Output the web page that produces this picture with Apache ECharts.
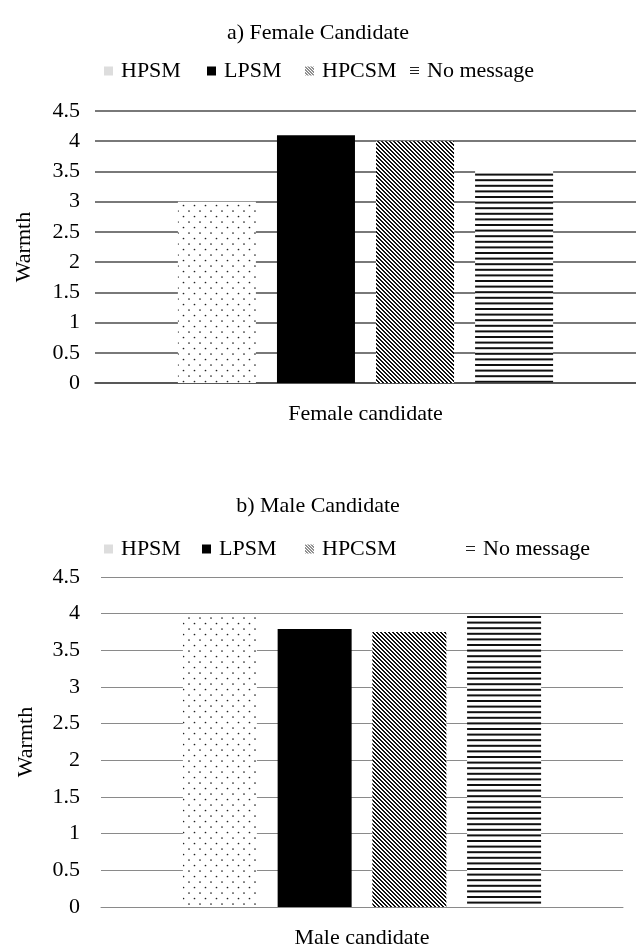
<!DOCTYPE html>
<html>
<head>
<meta charset="utf-8">
<script src="https://cdn.jsdelivr.net/npm/echarts@6/dist/echarts.min.js"></script>
<style>
  html, body { margin: 0; padding: 0; background: #fff; }
  #chart { width: 636px; height: 952px; }
</style>
</head>
<body>
<div id="chart"></div>
<script>
// Warmth ratings by message type, shown separately for each candidate
const messageTypes = ['HPSM', 'LPSM', 'HPCSM', 'No message'];
const femaleCategory = ['Female candidate'];
const maleCategory = ['Male candidate'];
const femaleWarmth = [3.0, 4.1, 4.0, 3.52];
const maleWarmth = [3.98, 3.79, 3.75, 3.99];
const yTicks = [0, 0.5, 1, 1.5, 2, 2.5, 3, 3.5, 4, 4.5];
const panelTitles = ['a) Female Candidate', 'b) Male Candidate'];
const yAxisName = 'Warmth';

const FONT = "'Liberation Serif', 'DejaVu Serif', serif";

function tile(w, h, draw) {
  const c = document.createElement('canvas');
  c.width = w; c.height = h;
  const ctx = c.getContext('2d');
  ctx.fillStyle = '#fff';
  ctx.fillRect(0, 0, w, h);
  draw(ctx, w, h);
  return { image: c, repeat: 'repeat' };
}

// staggered dot grid
const dotFill = tile(11, 11, (ctx) => {
  ctx.fillStyle = '#222';
  ctx.beginPath(); ctx.arc(2, 2, 0.85, 0, Math.PI * 2); ctx.fill();
  ctx.beginPath(); ctx.arc(7.5, 7.5, 0.85, 0, Math.PI * 2); ctx.fill();
});
const solidFill = '#000';
// diagonal "\" hatching
const diagFill = tile(4, 4, (ctx) => {
  ctx.fillStyle = '#111';
  for (let y = 0; y < 4; y++) for (let x = 0; x < 4; x++) {
    if (((x - y) % 4 + 4) % 4 < 2) ctx.fillRect(x, y, 1, 1);
  }
});
// horizontal stripes
const stripeFill = tile(4, 28, (ctx) => {
  ctx.fillStyle = '#111';
  for (let i = 0; i < 5; i++) ctx.fillRect(0, i * 5.6, 4, 2);
});
const barFills = [dotFill, solidFill, diagFill, stripeFill];

// small legend swatches
const legendDots = tile(2, 2, (ctx) => {
  ctx.fillStyle = '#bbb'; ctx.fillRect(0, 0, 1, 1); ctx.fillRect(1, 1, 1, 1);
});
const legendDiag = tile(3, 3, (ctx) => {
  ctx.fillStyle = '#222';
  for (let y = 0; y < 3; y++) for (let x = 0; x < 3; x++) {
    if (((x - y) % 3 + 3) % 3 === 0) ctx.fillRect(x, y, 1, 1);
  }
});
const legendStripe3 = tile(3, 3, (ctx) => {
  ctx.fillStyle = '#222'; ctx.fillRect(0, 0, 3, 1);
});
const legendStripe2 = tile(3, 4, (ctx) => {
  ctx.fillStyle = '#222'; ctx.fillRect(0, 0, 3, 1);
});

const panels = [
  {
    title: panelTitles[0], titleTop: 17, category: femaleCategory, values: femaleWarmth,
    grid: { left: 95, top: 111, width: 546, height: 272 },
    barWidth: 78, barGap: '27%', lineColor: '#4d4d4d', lineWidth: 1.6,
    labelMargin: 15, nameGap: 60, xLabelMargin: 20,
    legendTop: 60,
    legendLeft: [104, 207, 305, 410],
    legendIcons: [legendDots, solidFill, legendDiag, legendStripe3],
    legendIconH: [9, 9, 9, 8]
  },
  {
    title: panelTitles[1], titleTop: 490, category: maleCategory, values: maleWarmth,
    grid: { left: 101, top: 577, width: 522, height: 330 },
    barWidth: 74, barGap: '28%', lineColor: '#8a8a8a', lineWidth: 1,
    labelMargin: 21, nameGap: 64, xLabelMargin: 20,
    legendTop: 538,
    legendLeft: [104, 202, 305, 466],
    legendIcons: [legendDots, solidFill, legendDiag, legendStripe2],
    legendIconH: [9, 9, 9, 6]
  }
];

const textStyle = { fontFamily: FONT, fontSize: 22, color: '#000' };

const option = {
  animation: false,
  backgroundColor: '#fff',
  title: panels.map(p => ({
    text: p.title, left: 'center', top: p.titleTop,
    textStyle: Object.assign({}, textStyle, { fontWeight: 'normal' })
  })),
  legend: [],
  grid: panels.map(p => p.grid),
  xAxis: panels.map((p, i) => ({
    type: 'category', gridIndex: i, data: p.category,
    axisLine: { show: true, lineStyle: { color: p.lineColor, width: p.lineWidth } },
    axisTick: { show: false },
    axisLabel: Object.assign({ margin: p.xLabelMargin }, textStyle)
  })),
  yAxis: panels.map((p, i) => ({
    type: 'value', gridIndex: i,
    min: yTicks[0], max: yTicks[yTicks.length - 1], interval: yTicks[1] - yTicks[0],
    name: yAxisName, nameLocation: 'middle', nameRotate: 90, nameGap: p.nameGap,
    nameTextStyle: textStyle,
    axisLine: { show: false }, axisTick: { show: false },
    axisLabel: Object.assign({ margin: p.labelMargin }, textStyle),
    splitLine: { show: true, lineStyle: { color: p.lineColor, width: p.lineWidth } }
  })),
  series: []
};

panels.forEach((p, pi) => {
  messageTypes.forEach((name, si) => {
    option.series.push({
      type: 'bar', name: name, xAxisIndex: pi, yAxisIndex: pi,
      data: [p.values[si]],
      barWidth: p.barWidth, barGap: p.barGap,
      itemStyle: { color: barFills[si] },
      emphasis: { disabled: true }
    });
    option.legend.push({
      data: [{ name: name, itemStyle: { color: p.legendIcons[si] }, icon: 'rect' }],
      left: p.legendLeft[si], top: p.legendTop,
      itemWidth: 9, itemHeight: p.legendIconH[si], padding: 0,
      selectedMode: false,
      textStyle: Object.assign({ padding: [0, 0, 0, 3] }, textStyle)
    });
  });
});

const chart = echarts.init(document.getElementById('chart'), null, { renderer: 'canvas' });
chart.setOption(option);
</script>
</body>
</html>
